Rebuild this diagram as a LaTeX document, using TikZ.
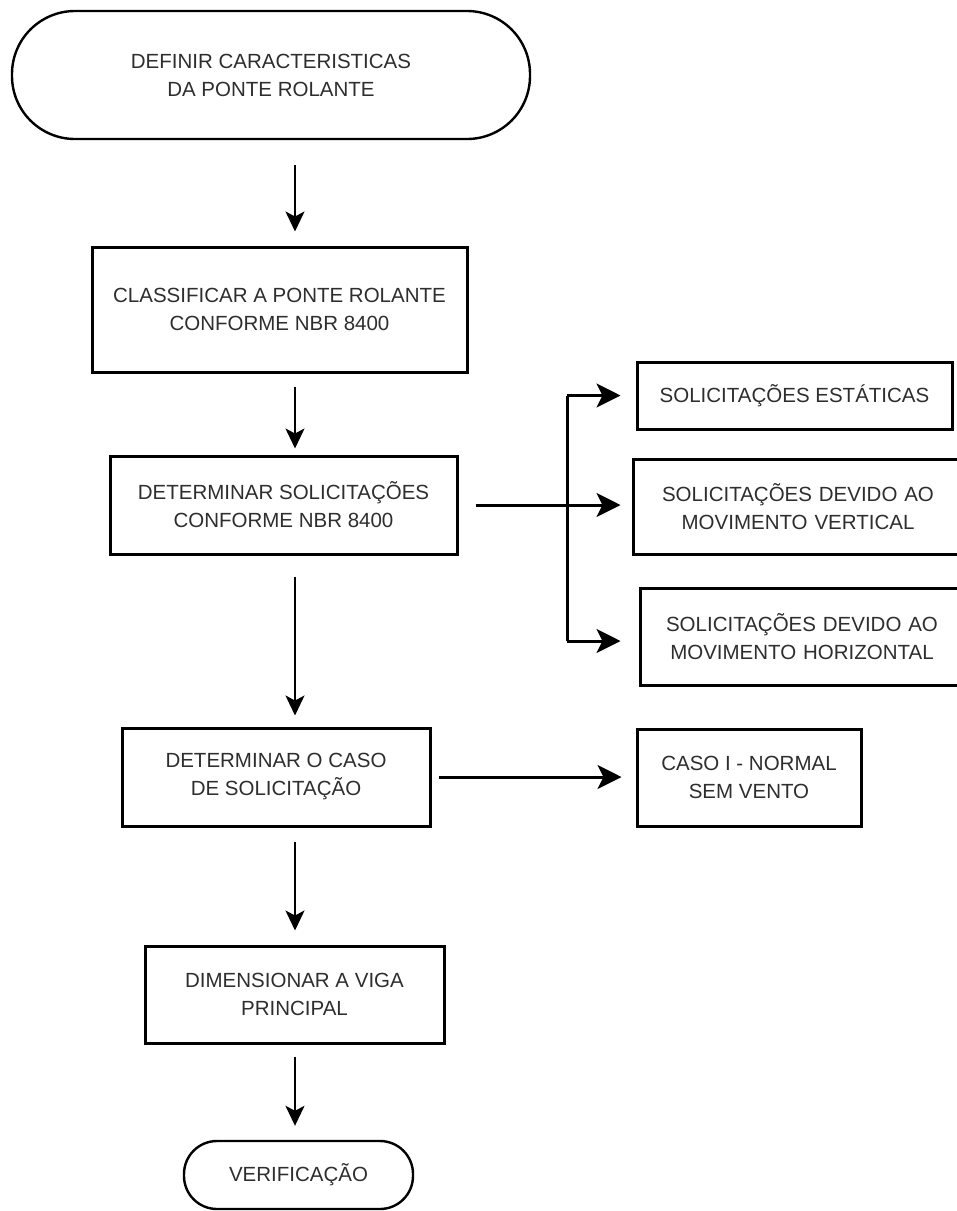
\documentclass[tikz,border=0pt]{standalone}
\usepackage{fontspec}
\setmainfont{Liberation Sans}
\usetikzlibrary{arrows.meta,calc}
\begin{document}
\begin{tikzpicture}[x=1pt,y=-1pt,
  every node/.style={font=\fontsize{20.5}{28}\selectfont, text=black!82, align=center, inner sep=0pt},
  procbox/.style={draw=black, line width=3pt, minimum width=#1},
  termbox/.style={draw=black, line width=2.4pt},
  varr/.style={line width=2pt, -{Stealth[length=20pt,width=19pt,inset=5pt]}},
  harr/.style={line width=3pt, -{Stealth[length=24pt,width=24pt,inset=6pt]}},
  hline/.style={line width=3pt}
]
\useasboundingbox[fill=white] (0,0) rectangle (957,1211);

% main column
\node[termbox, rounded corners=63pt, minimum width=518pt, minimum height=128pt] (t1) at (271,75) {DEFINIR CARACTERISTICAS\\DA PONTE ROLANTE};
\node[procbox=375pt, minimum height=125pt] (b2) at (279.5,309.5) {CLASSIFICAR A PONTE ROLANTE\\CONFORME NBR 8400};
\node[procbox=347pt, minimum height=98pt] (b3) at (283.5,505) {DETERMINAR SOLICITAÇÕES\\CONFORME NBR 8400};
\node[procbox=308pt, minimum height=98pt] (b4) at (276,777) {DETERMINAR O CASO\\DE SOLICITAÇÃO};
\node[procbox=299pt, minimum height=97pt] (b5) at (294.5,994.5) {DIMENSIONAR A VIGA\\PRINCIPAL};
\node[termbox, rounded corners=33pt, minimum width=229pt, minimum height=68pt] (t2) at (298.5,1175) {VERIFICAÇÃO};

% right column
\node[procbox=315pt, minimum height=67pt] (r1) at (794.5,395.5) {SOLICITAÇÕES ESTÁTICAS};
\node[procbox=330pt, minimum height=95pt, text width=318pt] (r2) at (798,506.5) {SOLICITAÇÕES DEVIDO AO\\MOVIMENTO VERTICAL};
\node[procbox=324pt, minimum height=97pt, text width=318pt] (r3) at (802,636.5) {SOLICITAÇÕES DEVIDO AO\\MOVIMENTO HORIZONTAL};
\node[procbox=224pt, minimum height=97pt] (r4) at (749,777.5) {CASO I - NORMAL\\SEM VENTO};

% shifted anchors for the text (boxes r2/r3 run past the right edge)
\coordinate (ax) at (295,0);
\coordinate (jt) at (567,395.5);
\coordinate (jb) at (567,641);

% vertical arrows
\draw[varr, shorten <=25pt, shorten >=14pt] (t1.south -| ax) -- (b2.north -| ax);
\draw[varr, shorten <=13pt, shorten >=6pt] (b2.south -| ax) -- (b3.north -| ax);
\draw[varr, shorten <=21pt, shorten >=11pt] (b3.south -| ax) -- (b4.north -| ax);
\draw[varr, shorten <=14pt, shorten >=14pt] (b4.south -| ax) -- (b5.north -| ax);
\draw[varr, shorten <=12pt, shorten >=14pt] (b5.south -| ax) -- (t2.north -| ax);

% branch to solicitations
\draw[harr, shorten <=17pt, shorten >=11pt] (b3.east) -- (b3.east -| r2.west);
\draw[hline] (jt) -- (jb);
\draw[harr, shorten >=15pt] (jt) -- (r1.west);
\draw[harr, shorten >=18pt] (jb) -- (jb -| r3.west);

% case
\draw[harr, shorten <=7pt, shorten >=14pt] (b4.east) -- (b4.east -| r4.west);
\end{tikzpicture}
\end{document}
